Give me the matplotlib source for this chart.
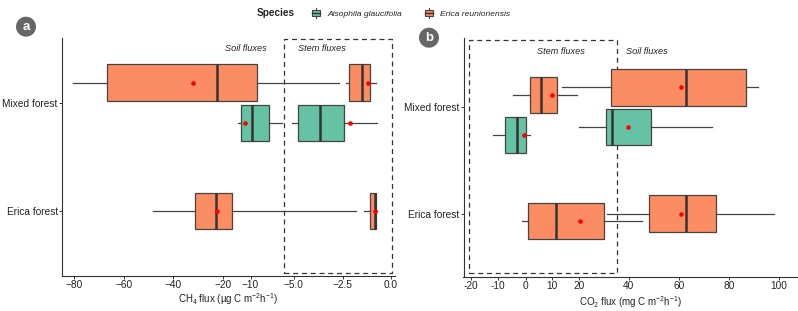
import matplotlib
matplotlib.use("Agg")
import matplotlib.pyplot as plt
import numpy as np
from matplotlib.patches import Rectangle, Ellipse, Patch
from matplotlib.legend_handler import HandlerBase
from matplotlib.lines import Line2D

plt.rcParams['font.family'] = ['Liberation Sans', 'DejaVu Sans']
plt.rcParams['mathtext.fontset'] = 'custom'
plt.rcParams['mathtext.rm'] = 'Liberation Sans'
plt.rcParams['mathtext.it'] = 'Liberation Sans:italic'
plt.rcParams['mathtext.bf'] = 'Liberation Sans:bold'

# ---------------- data ----------------
categories = ["Erica forest", "Mixed forest"]
species = ["Alsophila glaucifolia", "Erica reunionensis"]
species_colors = ["#66C2A5", "#FC8D62"]

# CH4 (panel a)
ch4_forest = ["Mixed forest", "Mixed forest", "Mixed forest", "Mixed forest", "Erica forest", "Erica forest"]
ch4_species = ["Erica reunionensis", "Erica reunionensis", "Alsophila glaucifolia",
               "Alsophila glaucifolia", "Erica reunionensis", "Erica reunionensis"]
ch4_type = ["Soil", "Stem", "Soil", "Stem", "Soil", "Stem"]
ch4_whislo = [-80.7, -2.34, -14.6, -5.21, -48.3, -1.39]
ch4_q1 = [-66.7, -2.15, -13.6, -4.76, -31.4, -1.08]
ch4_med = [-22.6, -1.48, -9.86, -3.65, -23.0, -0.84]
ch4_q3 = [-9.2, -1.07, -7.85, -2.41, -16.7, -0.77]
ch4_whishi = [-2.68, -0.79, -6.37, -0.74, -1.82, -0.72]
ch4_mean = [-32.3, -1.17, -12.1, -2.13, -22.7, -0.82]
ch4_ticks = [-80, -60, -40, -20, -10, -5, -2.5, 0]
ch4_ticklabels = ["\u221280", "\u221260", "\u221240", "\u221220", "\u221210", "\u22125.0", "\u22122.5", "0.0"]

# CO2 (panel b)
co2_forest = ["Mixed forest", "Mixed forest", "Mixed forest", "Mixed forest", "Erica forest", "Erica forest"]
co2_species = ["Erica reunionensis", "Erica reunionensis", "Alsophila glaucifolia",
               "Alsophila glaucifolia", "Erica reunionensis", "Erica reunionensis"]
co2_type = ["Soil", "Stem", "Soil", "Stem", "Soil", "Stem"]
co2_whislo = [13.7, -4.5, 20.3, -11.8, 31.3, -1.4]
co2_q1 = [33.1, 1.7, 30.9, -7.5, 48.3, 1.1]
co2_med = [62.8, 6.0, 33.4, -3.0, 63.0, 11.6]
co2_q3 = [86.8, 12.0, 49.0, 0.3, 74.9, 30.2]
co2_whishi = [91.8, 19.3, 73.2, 1.7, 98.1, 45.4]
co2_mean = [60.8, 10.0, 39.7, -0.7, 61.1, 20.6]
co2_ticks = [-20, -10, 0, 10, 20, 40, 60, 80, 100]
co2_ticklabels = ["-20", "-10", "0", "10", "20", "40", "60", "80", "100"]

# ---------------- axis scale layout (piecewise, in pixel-like units) ----------------
ch4_knots_x = [-80, -60, -40, -20, -10, -5, -2.5, 0]
ch4_knots_p = [74.5, 124, 173.5, 223.5, 250.5, 293.5, 342.5, 391]
co2_knots_x = [-20, 0, 20, 100]
co2_knots_p = [470.8, 525.5, 578.5, 778.7]


def piecewise(xs, ps):
    xs = np.asarray(xs, float)
    ps = np.asarray(ps, float)
    s0 = (ps[1] - ps[0]) / (xs[1] - xs[0])
    s1 = (ps[-1] - ps[-2]) / (xs[-1] - xs[-2])
    X = np.concatenate([[xs[0] - 1e4], xs, [xs[-1] + 1e4]])
    P = np.concatenate([[ps[0] - 1e4 * s0], ps, [ps[-1] + 1e4 * s1]])

    def fwd(v):
        return np.interp(v, X, P)

    def inv(p):
        return np.interp(p, P, X)
    return fwd, inv


dark = "#333333"
fig = plt.figure(figsize=(7.98, 3.11), dpi=100)
W, H = 798.0, 311.0


def add_axes_px(x0, y0, x1, y1):
    return fig.add_axes([x0 / W, 1 - y1 / H, (x1 - x0) / W, (y1 - y0) / H])


def draw_panel(ax, forest, spec, ftype, lo, q1, med, q3, hi, mean, stem_nudge):
    for i in range(len(forest)):
        cat_y = categories.index(forest[i]) + 1
        n_sp = len(set(s for f, s in zip(forest, spec) if f == forest[i]))
        if n_sp == 2:
            off = 0.187 if spec[i] == "Erica reunionensis" else -0.187
        else:
            off = 0.0
        if ftype[i] == "Stem":
            off -= stem_nudge
        y = cat_y + off
        col = species_colors[species.index(spec[i])]
        st = dict(whislo=lo[i], q1=q1[i], med=med[i], q3=q3[i], whishi=hi[i])
        ax.bxp([st], positions=[y], widths=0.34, orientation='horizontal',
               patch_artist=True, showfliers=False, showcaps=False,
               boxprops=dict(facecolor=col, edgecolor="#444444", linewidth=0.9),
               medianprops=dict(color=dark, linewidth=1.8, solid_capstyle='butt'),
               whiskerprops=dict(color="#444444", linewidth=0.9),
               manage_ticks=False)
        ax.scatter([mean[i]], [y], s=11, color="red", zorder=6, linewidths=0)


def style_axes(ax):
    for s in ["top", "right"]:
        ax.spines[s].set_visible(False)
    for s in ["left", "bottom"]:
        ax.spines[s].set_color(dark)
        ax.spines[s].set_linewidth(0.8)
    ax.tick_params(axis='both', colors=dark, labelcolor="#222222", labelsize=7.3,
                   length=2, width=0.7, pad=1.0)
    ax.set_yticks([1, 2])
    ax.set_yticklabels(categories)


# ---------- panel a ----------
axA = add_axes_px(62, 38, 395, 276)
fA, iA = piecewise(ch4_knots_x, ch4_knots_p)
axA.set_xscale('function', functions=(fA, iA))
draw_panel(axA, ch4_forest, ch4_species, ch4_type, ch4_whislo, ch4_q1, ch4_med,
           ch4_q3, ch4_whishi, ch4_mean, 0.0)
axA.set_xlim(-85.0, 0.2)
axA.set_ylim(0.398, 2.60)
axA.set_xticks(ch4_ticks)
axA.set_xticklabels(ch4_ticklabels)
axA.xaxis.set_minor_locator(matplotlib.ticker.NullLocator())
style_axes(axA)
axA.set_xlabel("CH$_4$ flux (\u00b5g C m$^{-2}$h$^{-1}$)", fontsize=7, color="#222222", labelpad=1)
axA.add_patch(Rectangle((-6.16, 0.423), 6.21, 2.595 - 0.423, fill=False, ls=(0, (4, 3)),
                        lw=0.9, edgecolor=dark, clip_on=False, zorder=1))
axA.text(-11.8, 2.505, "Soil fluxes", style='italic', fontsize=6.6, ha='center', va='center', color="#222222")
axA.text(-3.55, 2.505, "Stem fluxes", style='italic', fontsize=6.6, ha='center', va='center', color="#222222")

# ---------- panel b ----------
axB = add_axes_px(463.5, 38, 798, 277)
fB, iB = piecewise(co2_knots_x, co2_knots_p)
axB.set_xscale('function', functions=(fB, iB))
draw_panel(axB, co2_forest, co2_species, co2_type, co2_whislo, co2_q1, co2_med,
           co2_q3, co2_whishi, co2_mean, 0.07)
axB.set_xlim(-22.7, 107.7)
axB.set_ylim(0.402, 2.653)
axB.set_xticks(co2_ticks)
axB.set_xticklabels(co2_ticklabels)
axB.xaxis.set_minor_locator(matplotlib.ticker.NullLocator())
style_axes(axB)
axB.set_xlabel("CO$_2$ flux (mg C m$^{-2}$h$^{-1}$)", fontsize=7, color="#222222", labelpad=2)
axB.add_patch(Rectangle((-20.7, 0.442), 56.2, 2.634 - 0.442, fill=False, ls=(0, (4, 3)),
                        lw=0.9, edgecolor=dark, clip_on=False, zorder=1))
axB.text(13.3, 2.524, "Stem fluxes", style='italic', fontsize=6.6, ha='center', va='center', color="#222222")
axB.text(47.3, 2.524, "Soil fluxes", style='italic', fontsize=6.6, ha='center', va='center', color="#222222")

# ---------- panel labels ----------
for (cx, cy, lab) in [(26, 26.7, "a"), (429, 37.7, "b")]:
    fig.patches.append(Ellipse((cx / W, 1 - cy / H), 20 / W, 20 / H, transform=fig.transFigure,
                               facecolor="#666666", edgecolor="none"))
    fig.text(cx / W, 1 - (cy + 0.5) / H, lab, color="white", fontsize=9.5, fontweight='bold',
             ha='center', va='center')


# ---------- legend ----------
class BoxHandler(HandlerBase):
    def create_artists(self, legend, orig_handle, xdescent, ydescent, width, height, fontsize, trans):
        fc = orig_handle.get_facecolor()
        x0, y0 = -xdescent, -ydescent
        bx = x0 + width * 0.1
        bw = width * 0.8
        by = y0 + height * 0.2
        bh = height * 0.6
        r = Rectangle((bx, by), bw, bh, facecolor=fc, edgecolor="#444444", lw=0.8, transform=trans)
        m = Line2D([bx, bx + bw], [by + bh / 2] * 2, color=dark, lw=1.0, transform=trans)
        w1 = Line2D([x0 + width / 2] * 2, [by + bh, y0 + height], color="#444444", lw=0.8, transform=trans)
        w2 = Line2D([x0 + width / 2] * 2, [y0, by], color="#444444", lw=0.8, transform=trans)
        return [r, m, w1, w2]


handles = [Patch(facecolor=c) for c in species_colors]
leg = fig.legend(handles, species, loc='center left', bbox_to_anchor=(311.5 / W, 1 - 13.3 / H),
                 ncol=2, frameon=False, prop=dict(size=6.1, style='italic'),
                 handler_map={Patch: BoxHandler()}, handlelength=1.1, handleheight=1.4,
                 handletextpad=0.8, columnspacing=2.6, borderpad=0, borderaxespad=0)
for t in leg.get_texts():
    t.set_color("#222222")
fig.text(257 / W, 1 - 13.3 / H, "Species", fontsize=7.2, fontweight='bold', ha='left', va='center',
         color="#222222")

fig.savefig("out.png", dpi=100)
